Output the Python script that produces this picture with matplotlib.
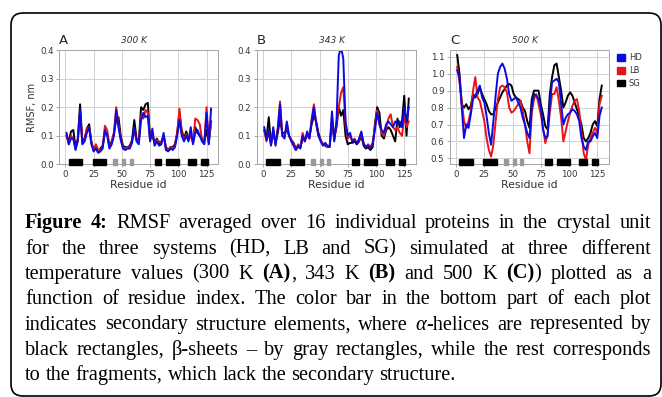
import re
import numpy as np
import matplotlib
matplotlib.use("Agg")
import matplotlib.pyplot as plt
from matplotlib.patches import Rectangle, FancyBboxPatch, Patch
from matplotlib.ticker import FormatStrFormatter
from matplotlib.transforms import IdentityTransform

# residue index (every second residue)
residues = list(range(1, 130, 2))

# 300 K
hd_300 = [0.11, 0.07, 0.09, 0.09, 0.05, 0.085, 0.19, 0.07, 0.08, 0.11,
          0.13, 0.07, 0.045, 0.055, 0.04, 0.045, 0.055, 0.12, 0.1, 0.055,
          0.07, 0.1, 0.19, 0.13, 0.085, 0.055, 0.05, 0.055, 0.055, 0.075,
          0.13, 0.08, 0.07, 0.155, 0.18, 0.165, 0.17, 0.08, 0.125, 0.065,
          0.08, 0.065, 0.07, 0.11, 0.05, 0.045, 0.055, 0.05, 0.06, 0.1,
          0.155, 0.1, 0.08, 0.1, 0.08, 0.13, 0.07, 0.11, 0.12, 0.1,
          0.08, 0.07, 0.18, 0.07, 0.195]
lb_300 = [0.10, 0.07, 0.10, 0.09, 0.055, 0.08, 0.18, 0.075, 0.085, 0.125,
          0.13, 0.075, 0.05, 0.07, 0.05, 0.05, 0.06, 0.135, 0.12, 0.06,
          0.075, 0.11, 0.20, 0.14, 0.09, 0.06, 0.055, 0.06, 0.06, 0.08,
          0.12, 0.085, 0.08, 0.17, 0.16, 0.19, 0.18, 0.085, 0.11, 0.07,
          0.085, 0.08, 0.075, 0.1, 0.055, 0.05, 0.06, 0.055, 0.065, 0.11,
          0.195, 0.11, 0.085, 0.105, 0.085, 0.1, 0.075, 0.16, 0.155, 0.14,
          0.085, 0.075, 0.2, 0.08, 0.145]
sg_300 = [0.10, 0.08, 0.115, 0.12, 0.06, 0.09, 0.21, 0.08, 0.09, 0.125,
          0.14, 0.08, 0.05, 0.06, 0.045, 0.055, 0.065, 0.11, 0.11, 0.065,
          0.08, 0.11, 0.155, 0.165, 0.1, 0.065, 0.06, 0.06, 0.065, 0.085,
          0.155, 0.09, 0.08, 0.2, 0.19, 0.21, 0.215, 0.09, 0.1, 0.075,
          0.09, 0.07, 0.08, 0.1, 0.06, 0.05, 0.06, 0.06, 0.07, 0.11,
          0.18, 0.12, 0.09, 0.115, 0.09, 0.1, 0.08, 0.13, 0.11, 0.1,
          0.09, 0.08, 0.12, 0.075, 0.15]

# 343 K
hd_343 = [0.13, 0.085, 0.12, 0.065, 0.13, 0.065, 0.12, 0.21, 0.1, 0.09,
          0.15, 0.1, 0.08, 0.065, 0.05, 0.065, 0.055, 0.1, 0.08, 0.115,
          0.09, 0.15, 0.2, 0.145, 0.1, 0.08, 0.065, 0.075, 0.065, 0.06,
          0.185, 0.08, 0.15, 0.38, 0.41, 0.37, 0.15, 0.1, 0.11, 0.08,
          0.085, 0.07, 0.09, 0.115, 0.07, 0.06, 0.065, 0.055, 0.07, 0.12,
          0.18, 0.14, 0.12, 0.11, 0.14, 0.15, 0.14, 0.13, 0.15, 0.14,
          0.15, 0.13, 0.2, 0.15, 0.2]
lb_343 = [0.12, 0.08, 0.11, 0.07, 0.12, 0.07, 0.13, 0.22, 0.1, 0.1,
          0.14, 0.1, 0.085, 0.07, 0.05, 0.07, 0.06, 0.11, 0.08, 0.11,
          0.09, 0.16, 0.21, 0.14, 0.1, 0.085, 0.07, 0.07, 0.06, 0.065,
          0.17, 0.085, 0.15, 0.2, 0.25, 0.27, 0.14, 0.09, 0.1, 0.08,
          0.09, 0.075, 0.085, 0.11, 0.075, 0.06, 0.07, 0.06, 0.075, 0.13,
          0.19, 0.14, 0.11, 0.1, 0.13, 0.16, 0.175, 0.13, 0.12, 0.13,
          0.11, 0.1, 0.17, 0.13, 0.15]
sg_343 = [0.12, 0.09, 0.165, 0.07, 0.11, 0.075, 0.11, 0.16, 0.11, 0.11,
          0.12, 0.1, 0.085, 0.075, 0.055, 0.06, 0.06, 0.09, 0.085, 0.1,
          0.095, 0.14, 0.17, 0.15, 0.11, 0.085, 0.07, 0.065, 0.06, 0.065,
          0.15, 0.09, 0.13, 0.2, 0.17, 0.19, 0.1, 0.07, 0.075, 0.075,
          0.08, 0.07, 0.08, 0.1, 0.065, 0.055, 0.06, 0.05, 0.06, 0.14,
          0.2, 0.18, 0.1, 0.09, 0.12, 0.13, 0.12, 0.1, 0.08, 0.16,
          0.13, 0.15, 0.24, 0.1, 0.23]

# 500 K
hd_500 = [1.02, 0.98, 0.8, 0.62, 0.7, 0.68, 0.76, 0.85, 0.87, 0.9,
          0.93, 0.86, 0.83, 0.75, 0.65, 0.58, 0.72, 0.87, 1.0, 1.04,
          1.06, 1.03, 0.97, 0.88, 0.84, 0.85, 0.86, 0.83, 0.8, 0.74,
          0.7, 0.65, 0.62, 0.8, 0.88, 0.87, 0.85, 0.8, 0.67, 0.62,
          0.63, 0.82, 0.95, 0.96, 0.97, 0.95, 0.82, 0.7, 0.74, 0.76,
          0.77, 0.79, 0.78, 0.76, 0.72, 0.62, 0.57, 0.55, 0.6, 0.6,
          0.63, 0.65, 0.62, 0.75, 0.8]
lb_500 = [1.04, 0.95, 0.84, 0.72, 0.68, 0.72, 0.78, 0.9, 0.98, 0.86,
          0.84, 0.78, 0.72, 0.62, 0.55, 0.51, 0.58, 0.72, 0.85, 0.92,
          0.93, 0.92, 0.89, 0.8, 0.77, 0.78, 0.8, 0.82, 0.84, 0.78,
          0.7, 0.6, 0.53, 0.77, 0.85, 0.88, 0.82, 0.76, 0.68, 0.59,
          0.64, 0.77, 0.88, 0.88, 0.92, 0.84, 0.74, 0.6, 0.66, 0.72,
          0.77, 0.81, 0.84, 0.85, 0.78, 0.66, 0.53, 0.49, 0.58, 0.62,
          0.65, 0.68, 0.65, 0.82, 0.87]
sg_500 = [1.11, 1.0, 0.82, 0.8, 0.82, 0.79, 0.81, 0.88, 0.86, 0.88,
          0.92, 0.88, 0.85, 0.82, 0.78, 0.76, 0.76, 0.8, 0.83, 0.86,
          0.89, 0.91, 0.93, 0.94, 0.93, 0.88, 0.86, 0.85, 0.84, 0.8,
          0.78, 0.72, 0.68, 0.85, 0.9, 0.9, 0.9, 0.82, 0.76, 0.69,
          0.67, 0.88, 0.98, 1.05, 1.06, 0.98, 0.9, 0.8, 0.83, 0.87,
          0.89, 0.87, 0.83, 0.79, 0.75, 0.7, 0.62, 0.6, 0.62, 0.65,
          0.7, 0.72, 0.69, 0.85, 0.93]

# secondary structure (residue ranges)
helices = [(3, 15), (24, 36), (79, 85), (89, 101), (109, 116), (120, 126)]
sheets = [(42, 46), (50.5, 53), (57, 59.5)]

letters = ["A", "B", "C"]
temps = ["300 K", "343 K", "500 K"]
names = ["HD", "LB", "SG"]
colors = ["#0a0ae6", "#e61414", "black"]
ylims = [(0, 0.4), (0, 0.4), (0.465, 1.14)]
yticks = [[0, 0.1, 0.2, 0.3, 0.4], [0, 0.1, 0.2, 0.3, 0.4],
          [0.5, 0.6, 0.7, 0.8, 0.9, 1.0, 1.1]]
data = [(hd_300, lb_300, sg_300), (hd_343, lb_343, sg_343), (hd_500, lb_500, sg_500)]

caption = [
    "*Figure* *4:* RMSF averaged over 16 individual proteins in the crystal unit",
    "for the three systems (HD, LB and SG) simulated at three different",
    "temperature values (300 K *(A)*, 343 K *(B)* and 500 K *(C)*) plotted as a",
    "function of residue index. The color bar in the bottom part of each plot",
    "indicates secondary structure elements, where ~α~-helices are represented by",
    "black rectangles, β-sheets – by gray rectangles, while the rest corresponds",
    "to the fragments, which lack the secondary structure.",
]

W, H = 662, 397
fig = plt.figure(figsize=(W / 100, H / 100), dpi=100)

# rounded frame
r = 12
fig.add_artist(FancyBboxPatch((11 + r, 1 + r), 650 - 2 * r, 383 - 2 * r,
                              boxstyle="round,pad=%d" % r, transform=IdentityTransform(),
                              fill=False, edgecolor="black", lw=1.2))

lefts = [59.3, 257, 450]
for i in range(3):
    ax = fig.add_axes([lefts[i] / W, 1 - (50 + 114.3) / H, 159 / W, 114.3 / H])
    hd, lb, sg = data[i]
    ax.plot(residues, sg, color=colors[2], lw=1.4)
    ax.plot(residues, lb, color=colors[1], lw=1.4)
    ax.plot(residues, hd, color=colors[0], lw=1.4)
    for a, b in helices:
        ax.add_patch(Rectangle((a, -0.005), b - a, 0.05, transform=ax.get_xaxis_transform(),
                               color="black", zorder=4, clip_on=False))
    for a, b in sheets:
        ax.add_patch(Rectangle((a, -0.005), b - a, 0.05, transform=ax.get_xaxis_transform(),
                               color="0.6", zorder=4, clip_on=False))
    ax.set_ylim(*ylims[i])
    ax.set_yticks(yticks[i])
    ax.yaxis.set_major_formatter(FormatStrFormatter("%.1f"))
    ax.set_xticks([0, 25, 50, 75, 100, 125])
    ax.grid(True, color="0.82", lw=0.7)
    ax.set_axisbelow(True)
    for s in ax.spines.values():
        s.set_color("0.65")
        s.set_linewidth(0.7)
    ax.tick_params(labelsize=6.2, length=2.5, width=0.6, pad=1.5,
                   color="0.6", labelcolor="0.2")
    ax.set_xlabel("Residue id", fontsize=7.8, color="0.2", labelpad=1)
    if i == 0:
        ax.set_ylabel("RMSF, nm", fontsize=7, color="0.2", labelpad=2)
    ax.text(0.0, 1.03, letters[i], transform=ax.transAxes, fontsize=9.5,
            color="0.15", va="bottom", ha="left")
    ax.text(0.47, 1.045, temps[i], transform=ax.transAxes, fontsize=6.5,
            style="italic", color="0.2", va="bottom", ha="center")
    if i == 2:
        handles = [Patch(color=c, label=n) for c, n in zip(colors, names)]
        ax.legend(handles=handles, loc="upper left", bbox_to_anchor=(1.03, 1.0),
                  frameon=False, fontsize=6, handlelength=0.9, handleheight=0.9,
                  handletextpad=0.5, labelspacing=0.45, borderaxespad=0,
                  labelcolor="0.2")

# caption, justified like the journal layout
renderer = fig.canvas.get_renderer()
x0, x1 = 25, 651
family = "Liberation Serif"


def parse(word):
    segs = []
    for part in re.split(r"(\*[^*]+\*|~[^~]+~)", word):
        if not part:
            continue
        if part.startswith("*"):
            segs.append((part[1:-1], "bold", "normal"))
        elif part.startswith("~"):
            segs.append((part[1:-1], "normal", "italic"))
        else:
            segs.append((part, "normal", "normal"))
    return segs


def make_words(line, fs):
    words = []
    for w in line.split(" "):
        pieces = []
        for txt, wt, st in parse(w):
            t = fig.text(0, 0, txt, fontsize=fs, family=family, weight=wt,
                         style=st, va="baseline", ha="left", color="black")
            pieces.append((t, t.get_window_extent(renderer).width))
        words.append(pieces)
    return words


# fit font size to the longest line
probe = 10
nat = []
for line in caption[:-1]:
    ws = make_words(line, probe)
    total = sum(wd for p in ws for _, wd in p) + (len(ws) - 1) * 0.25 * probe * 100 / 72
    nat.append(total)
    for p in ws:
        for t, _ in p:
            t.remove()
fs = min(15, probe * (x1 - x0) / max(nat) * 0.97)

for k, line in enumerate(caption):
    ws = make_words(line, fs)
    widths = [sum(wd for _, wd in p) for p in ws]
    space = 0.25 * fs * 100 / 72
    if k < len(caption) - 1:
        space = ((x1 - x0) - sum(widths)) / (len(ws) - 1)
    y = 1 - (228.3 + 25.3 * k) / H
    x = x0
    for p, wsum in zip(ws, widths):
        xx = x
        for t, wd in p:
            t.set_position((xx / W, y))
            xx += wd
        x += wsum + space

fig.savefig("out.png", dpi=100)
